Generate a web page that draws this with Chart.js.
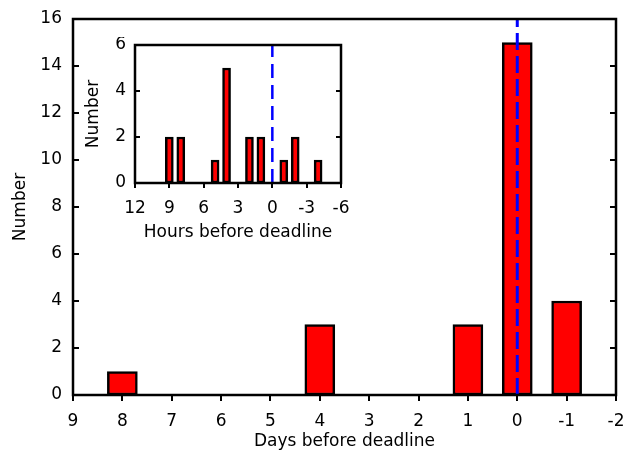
<!DOCTYPE html>
<html>
<head>
<meta charset="utf-8">
<script src="https://cdn.jsdelivr.net/npm/chart.js@4/dist/chart.umd.min.js"></script>
<style>
  html, body { margin: 0; padding: 0; background: #fff; }
  #wrap { position: relative; width: 624px; height: 452px; }
  #main { position: absolute; left: 0; top: 0; }
  #inset { position: absolute; left: 80px; top: 37px; }
</style>
</head>
<body>
<div id="wrap">
  <canvas id="main" width="624" height="452"></canvas>
  <canvas id="inset" width="270" height="208"></canvas>
</div>
<script>
// ---- data ----
const mainDays = [8, 4, 1, 0, -1];
const mainCounts = [1, 3, 3, 15, 4];
const mainXRange = [-2, 9];
const mainYRange = [0, 16];

const insetHours = [9, 8, 5, 4, 2, 1, -1, -2, -4];
const insetCounts = [2, 2, 1, 5, 2, 2, 1, 2, 1];
const insetXRange = [-6, 12];
const insetYRange = [0, 6];

const deadlineX = 0;

const FONT = "'DejaVu Sans', 'Liberation Sans', Arial, sans-serif";
Chart.defaults.font.family = FONT;
Chart.defaults.color = '#000';
Chart.defaults.animation = false;

const framePlugin = {
  id: 'frame',
  afterDatasetsDraw(chart, args, opts) {
    const { ctx, chartArea: a, scales } = chart;
    ctx.save();
    ctx.strokeStyle = '#000';
    ctx.lineWidth = 2.5;
    ctx.setLineDash([]);
    ctx.strokeRect(a.left, a.top, a.right - a.left, a.bottom - a.top);
    const y = scales.y;
    const len = opts.tick || 6;
    ctx.lineWidth = 2;
    ctx.beginPath();
    y.ticks.forEach(t => {
      const py = Math.round(y.getPixelForValue(t.value));
      ctx.moveTo(a.left, py); ctx.lineTo(a.left + len, py);
      ctx.moveTo(a.right, py); ctx.lineTo(a.right - len, py);
    });
    ctx.stroke();
    ctx.restore();
  }
};

function makeChart(id, xs, ys, xr, yr, cfg) {
  const bars = xs.map((x, i) => ({ x: x, y: ys[i] }));
  return new Chart(document.getElementById(id), {
    type: 'bar',
    data: {
      datasets: [
        {
          type: 'line',
          data: [{ x: deadlineX, y: yr[0] }, { x: deadlineX, y: yr[1] }],
          borderColor: '#0000ff',
          borderWidth: cfg.dashWidth,
          borderDash: cfg.dash,
          pointRadius: 0,
          order: 0
        },
        {
          type: 'bar',
          data: bars,
          backgroundColor: '#ff0000',
          borderColor: '#000',
          borderWidth: 2.5,
          borderSkipped: false,
          barThickness: cfg.barPx,
          order: 1
        }
      ]
    },
    options: {
      responsive: false,
      animation: false,
      events: [],
      layout: { padding: cfg.padding },
      plugins: { legend: { display: false }, tooltip: { enabled: false }, frame: { tick: cfg.tick } },
      scales: {
        x: {
          type: 'linear',
          reverse: true,
          min: xr[0], max: xr[1],
          offset: false,
          grid: { offset: false, drawOnChartArea: false, drawTicks: true, tickLength: cfg.tick, color: '#000', lineWidth: 2 },
          border: { display: false },
          ticks: { stepSize: cfg.xStep, padding: cfg.xPad, font: { size: cfg.fs }, maxRotation: 0, autoSkip: false },
          title: { display: true, text: cfg.xTitle, font: { size: cfg.fs }, padding: cfg.xTitlePad },
          afterFit(s) { s.height = cfg.xH; s.paddingLeft = 0; s.paddingRight = 0; }
        },
        y: {
          min: yr[0], max: yr[1],
          grid: { display: false },
          border: { display: false },
          ticks: { stepSize: cfg.yStep, padding: cfg.yPad, font: { size: cfg.fs } },
          title: { display: true, text: 'Number', font: { size: cfg.fs }, padding: cfg.yTitlePad },
          afterFit(s) { s.width = cfg.yW; s.paddingTop = 0; s.paddingBottom = 0; }
        }
      }
    },
    plugins: [framePlugin]
  });
}

makeChart('main', mainDays, mainCounts, mainXRange, mainYRange, {
  barPx: 30, dash: [17, 6], dashWidth: 3, tick: 6,
  padding: { left: 0, right: 8, top: 19, bottom: 0 },
  xStep: 1, yStep: 2, fs: 17,
  xPad: 10, xTitlePad: { top: 4, bottom: 0 }, xH: 57,
  yPad: 3, yTitlePad: { top: 10, bottom: 0 }, yW: 73,
  xTitle: 'Days before deadline'
});

makeChart('inset', insetHours, insetCounts, insetXRange, insetYRange, {
  barPx: 8, dash: [14, 7], dashWidth: 2.5, tick: 5,
  padding: { left: 0, right: 9, top: 8, bottom: 0 },
  xStep: 3, yStep: 2, fs: 17,
  xPad: 10, xTitlePad: { top: 2, bottom: 2 }, xH: 62,
  yPad: 1, yTitlePad: { top: 3, bottom: 0 }, yW: 55,
  xTitle: 'Hours before deadline'
});
</script>
</body>
</html>
